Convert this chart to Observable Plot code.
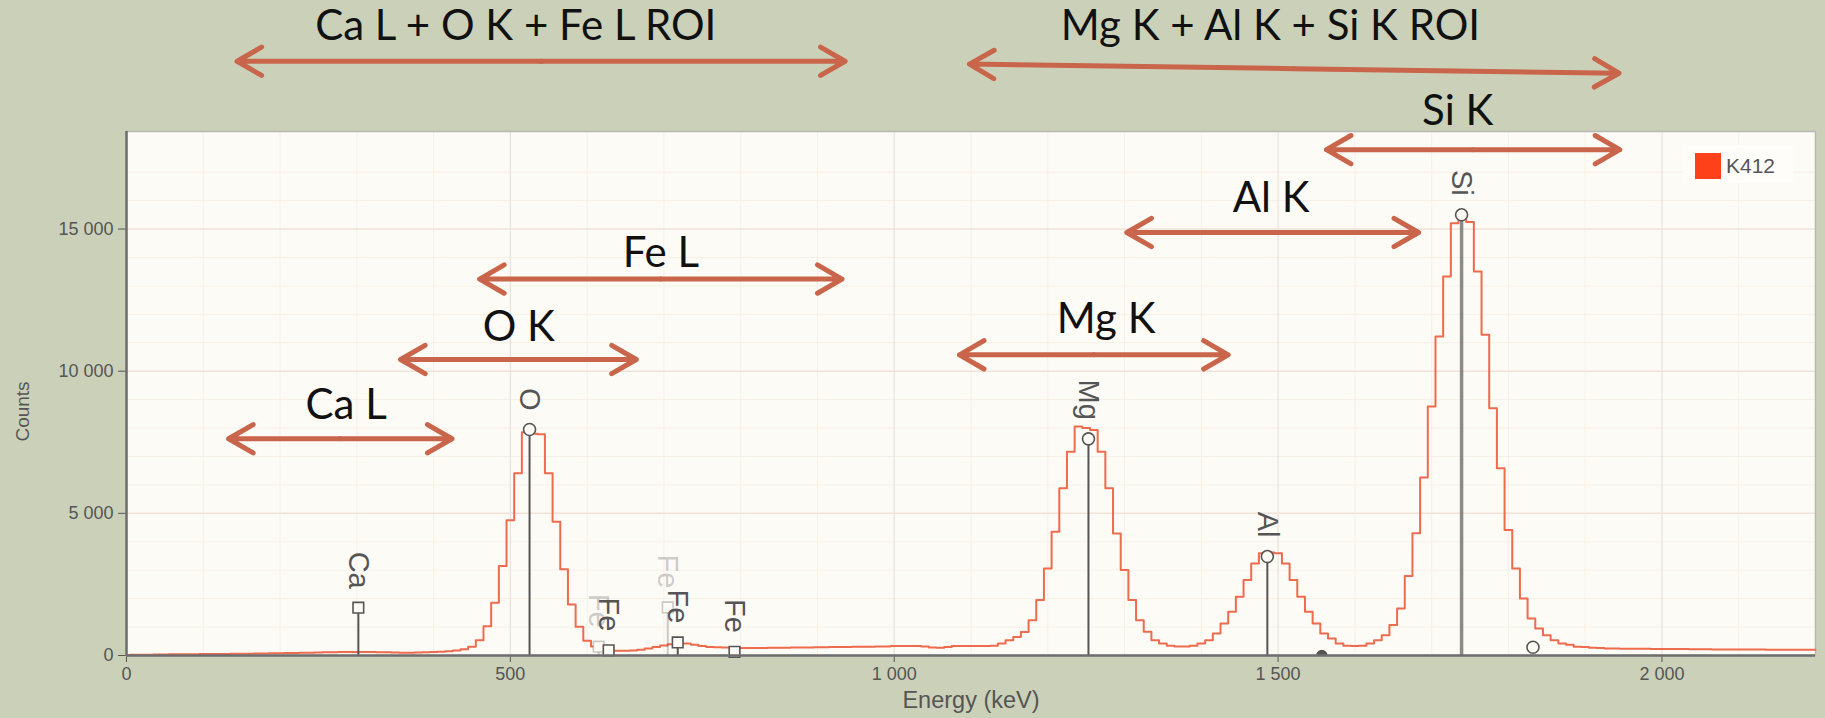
<!DOCTYPE html>
<html>
<head>
<meta charset="utf-8">
<script src="https://cdn.jsdelivr.net/npm/d3@7"></script>
<script src="https://cdn.jsdelivr.net/npm/@observablehq/plot@0.6"></script>
<style>
  html, body { margin: 0; padding: 0; background: #CBD1B9; }
  #wrap { position: relative; width: 1825px; height: 718px; overflow: hidden; }
  #legend { position: absolute; left: 1683px; top: 145px; width: 110px; height: 38px;
            background: #FEFDFA; font-family: "Liberation Sans", Arial, sans-serif; font-size: 21px; color: #555; }
  #legend .sw { position: absolute; left: 12px; top: 8px; width: 26px; height: 26px; background: #FF4119; }
  #legend .lb { position: absolute; left: 43px; top: 8px; line-height: 26px; }
</style>
</head>
<body>
<div id="wrap">
  <div id="chart"></div>
  <div id="legend"><div class="sw"></div><div class="lb" id="legendLabel"></div></div>
</div>
<script>
// ---------------- data ----------------
const seriesName = "K412";
const channelWidth = 10; // keV per channel, first channel at 0 keV
// counts per 10 keV channel, 0 … 2200 keV (one row = 100 keV)
const counts = [
  20, 25, 30, 30, 35, 35, 40, 40, 45, 45,
  50, 50, 55, 55, 60, 60, 65, 70, 70, 75,
  80, 85, 90, 95, 100, 105, 110, 115, 120, 125,
  125, 125, 120, 115, 110, 105, 100, 100, 105, 110,
  120, 130, 150, 180, 220, 304, 539, 1032, 1852, 3150,
  4760, 6410, 7850, 7800, 7780, 6410, 4705, 3030, 1790, 1010,
  520, 320, 230, 190, 170, 165, 175, 200, 250, 300,
  350, 400, 420, 420, 380, 330, 300, 290, 280, 270,
  265, 260, 260, 265, 270, 270, 275, 280, 280, 285,
  290, 290, 295, 300, 300, 305, 310, 310, 315, 320,
  330, 330, 330, 330, 320, 280, 270, 300, 330, 330,
  330, 330, 335, 340, 422, 540, 650, 830, 1243, 1948,
  3060, 4350, 5880, 7170, 8050, 8000, 7930, 7170, 5880, 4295,
  3004, 1948, 1243, 832, 540, 422, 340, 320, 320, 340,
  422, 539, 774, 1126, 1537, 2065, 2652, 3239, 3600, 3620,
  3600, 3239, 2652, 2065, 1537, 1126, 774, 598, 422, 340,
  330, 340, 423, 540, 716, 1069, 1657, 2800, 4296, 6260,
  8756, 11221, 13333, 15200, 15400, 15250, 13510, 11280, 8697, 6584,
  4413, 3063, 2007, 1303, 951, 716, 540, 423, 380, 305,
  300, 270, 260, 250, 245, 240, 240, 235, 235, 230,
  230, 230, 225, 225, 220, 220, 220, 215, 215, 215,
  210, 210, 210, 210, 205, 205, 205, 200, 200, 200,
  200
];

// element line markers
const lineLabels  = ["Ca", "O", "Fe", "Fe", "Fe", "Fe", "Fe", "Mg", "Al", "Si", "", ""];
const lineEnergy  = [302, 525, 615, 628, 705, 718, 792, 1253, 1486, 1739, 1557, 1832];
const lineCounts  = [1680, 7950, 310, 180, 1690, 460, 127, 7620, 3480, 15500, 0, 290];
const lineSymbol  = ["square", "circle", "square", "square", "square", "square", "square", "circle", "circle", "circle", "circle", "circle"];
const lineFaded   = [false, false, true, false, true, false, false, false, false, false, false, false];
const lineHasStem = [true, true, true, true, true, true, true, true, true, true, false, false];

// region-of-interest annotations (energies in keV, heights in counts)
const roiNames   = ["Ca L + O K + Fe L ROI", "Mg K + Al K + Si K ROI", "Si K", "Al K", "Fe L", "Mg K", "O K", "Ca L"];
const roiFrom    = [144, 1098, 1563, 1303, 460, 1085, 357, 133];
const roiTo      = [936, 1944, 1945, 1683, 932, 1435, 664, 424];
const roiYFrom   = [20900, 20800, 17790, 14877, 13240, 10574, 10410, 7623];
const roiYTo     = [20900, 20480, 17790, 14877, 13240, 10574, 10410, 7623];
const roiLabelE  = [507, 1490, 1734, 1491, 696, 1276, 511, 286];
const roiLabelY  = [22120, 22120, 19141, 16067, 14141, 11806, 11525, 8778];

const xTicks = [0, 500, 1000, 1500, 2000];
const yTicks = [0, 5000, 10000, 15000];
const xLabel = "Energy (keV)";
const yLabel = "Counts";

// ---------------- build ----------------
const spectrum = counts.map((c, i) => ({energy: i * channelWidth, counts: c}));
const lines = lineLabels.map((label, i) => ({
  label, energy: lineEnergy[i], counts: lineCounts[i], symbol: lineSymbol[i],
  op: lineFaded[i] ? 0.3 : 1, stem: lineHasStem[i]
}));
const roi = roiNames.map((name, i) => ({
  name, x1: roiFrom[i], x2: roiTo[i], y1: roiYFrom[i], y2: roiYTo[i],
  mx: (roiFrom[i] + roiTo[i]) / 2, my: (roiYFrom[i] + roiYTo[i]) / 2,
  lx: roiLabelE[i], ly: roiLabelY[i]
}));

const fmt = d3.formatLocale({decimal: ".", thousands: " ", grouping: [3], currency: ["", ""]}).format(",");
const minorX = d3.range(100, 2200, 100).filter(d => d % 500 !== 0);
const minorY = d3.range(1000, 18000, 1000).filter(d => d % 5000 !== 0);

const arrowStyle = {stroke: "#C9654B", strokeWidth: 5, headLength: 8.5, headAngle: 60, strokeLinecap: "round", strokeLinejoin: "round"};
const stems = lines.filter(d => d.stem);

const chart = Plot.plot({
  width: 1825,
  height: 718,
  marginLeft: 126,
  marginRight: 10,
  marginTop: 131,
  marginBottom: 63,
  style: {background: "transparent", fontFamily: "Liberation Sans, Arial, sans-serif", fontSize: "18px", color: "#555", overflow: "visible"},
  x: {domain: [0, 2200], ticks: xTicks, tickFormat: fmt, tickSize: 7, tickPadding: 5, label: null},
  y: {domain: [0, 18430], ticks: yTicks, tickFormat: fmt, tickSize: 8, tickPadding: 5, label: null},
  marks: [
    Plot.frame({fill: "#FDFBF5", stroke: null}),
    Plot.ruleX(minorX, {stroke: "#F6F0E8", strokeWidth: 1}),
    Plot.ruleY(minorY, {stroke: "#F6F0E8", strokeWidth: 1}),
    Plot.ruleX(xTicks.slice(1), {stroke: "#EBE2D8", strokeWidth: 1.2}),
    Plot.ruleY(yTicks.slice(1), {stroke: "#F1E3DA", strokeWidth: 1.5}),
    Plot.frame({stroke: "#B8B8B2", strokeWidth: 1.5}),
    Plot.line(spectrum, {x: "energy", y: "counts", curve: "step", stroke: "#EE6B4E", strokeWidth: 2}),
    Plot.ruleX(stems.filter(d => d.label !== "Si"), {x: "energy", y1: 0, y2: "counts", stroke: "#555", strokeWidth: 2, strokeOpacity: "op"}),
    Plot.ruleX(stems.filter(d => d.label === "Si"), {x: "energy", y1: 0, y2: "counts", stroke: "#777", strokeWidth: 3.5, strokeOpacity: 0.85}),
    Plot.dot(lines.filter(d => d.counts > 0), {x: "energy", y: "counts", symbol: "symbol", r: 6, fill: "#FDFBF5", stroke: "#555", strokeWidth: 1.6, strokeOpacity: "op", fillOpacity: 1}),
    Plot.dot(lines.filter(d => d.counts === 0), {x: "energy", y: "counts", symbol: "symbol", r: 5, fill: "#555", stroke: "#555", clip: true}),
    Plot.text(lines.filter(d => d.label), {x: "energy", y: "counts", text: "label", rotate: 90, textAnchor: "end", dy: -19,
      fontFamily: "Liberation Sans, Arial, sans-serif", fontSize: 29, fill: "#555", fillOpacity: "op"}),
    Plot.ruleY([0], {stroke: "#6E6E6E", strokeWidth: 2.5}),
    Plot.ruleX([0], {stroke: "#6E6E6E", strokeWidth: 2.5}),
    Plot.arrow(roi, {x1: "mx", y1: "my", x2: "x1", y2: "y1", ...arrowStyle}),
    Plot.arrow(roi, {x1: "mx", y1: "my", x2: "x2", y2: "y2", ...arrowStyle}),
    Plot.text(roi, {x: "lx", y: "ly", text: "name", fontFamily: "Lato, 'Open Sans', sans-serif", fontSize: 42, fill: "#111"}),
    Plot.text([yLabel], {frameAnchor: "left", textAnchor: "middle", rotate: -90, dx: -104, dy: 18, fontSize: 19, fill: "#555"}),
    Plot.text([xLabel], {frameAnchor: "bottom", textAnchor: "middle", dy: 52, fontSize: 23.5, fill: "#555"})
  ]
});
document.getElementById("chart").appendChild(chart);
document.getElementById("legendLabel").textContent = seriesName;
</script>
</body>
</html>
